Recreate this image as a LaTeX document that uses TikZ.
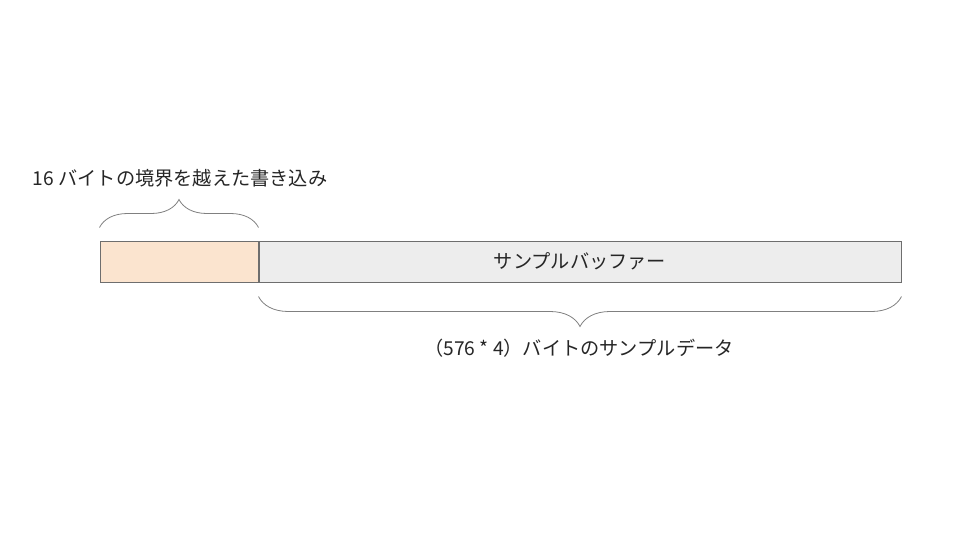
\documentclass[tikz,border=0pt]{standalone}
\usepackage{fontspec}
\setmainfont{Noto Sans CJK JP}
\usepackage{tikz}
\usetikzlibrary{positioning,decorations.pathreplacing}

\definecolor{boxline}{HTML}{6E6E6E}
\definecolor{braceline}{HTML}{808080}
\definecolor{guardfill}{HTML}{FBE4CF}
\definecolor{buffill}{HTML}{EDEDED}
\definecolor{textcol}{HTML}{262626}

\tikzset{
every picture/.style={
line width=0.75pt
}}
\tikzset{
  membox/.style={draw=boxline, inner sep=0pt, minimum height=30.75pt, text=textcol},
  brace/.style={draw=braceline, line width=0.6pt, decorate,
    decoration={brace, amplitude=#1}},
  lbl/.style={text=textcol, font=\fontsize{14.4}{17}\selectfont}
}

\begin{document}
\begin{tikzpicture}[x=0.75pt, y=-0.75pt]
  \useasboundingbox (0,0) rectangle (960,540);

  % buffer
  \node[membox, fill=guardfill, minimum width=118.5pt] (guard) at (179,261.5) {};
  \node[membox, fill=buffill, minimum width=481.5pt, right=0pt of guard,
        font=\fontsize{14.4}{17}\selectfont] (buf) {サンプルバッファー};

  % braces
  \draw[brace=21pt] ([yshift=9.75pt]guard.north west) -- ([yshift=9.75pt]guard.north east)
    coordinate[pos=0.5] (topmid);
  \draw[brace=22.5pt] ([yshift=-10.5pt]buf.south east) -- ([yshift=-10.5pt]buf.south west)
    coordinate[pos=0.5] (botmid);

  % labels
  \node[lbl] (toplbl) at (180,178) {16 バイトの境界を越えた書き込み};
  \node[lbl] (botlbl) at (579,348) {（576 * 4）バイトのサンプルデータ};
\end{tikzpicture}
\end{document}
